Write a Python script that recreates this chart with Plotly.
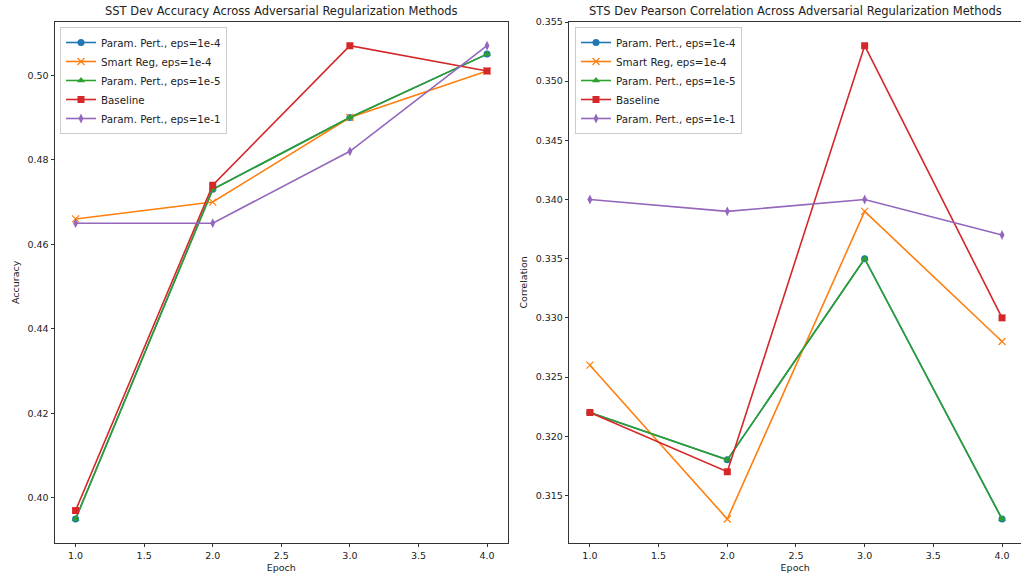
import plotly.graph_objects as go

epochs = [1, 2, 3, 4]
series_names = ["Param. Pert., eps=1e-4", "Smart Reg, eps=1e-4", "Param. Pert., eps=1e-5",
                "Baseline", "Param. Pert., eps=1e-1"]
colors = ["#1f77b4", "#ff7f0e", "#2ca02c", "#d62728", "#9467bd"]
symbols = ["circle", "x-thin", "triangle-up", "square", "diamond-tall"]

sst_pp_1e4 = [0.395, 0.473, 0.490, 0.505]
sst_smart_1e4 = [0.466, 0.470, 0.490, 0.501]
sst_pp_1e5 = [0.395, 0.473, 0.490, 0.505]
sst_baseline = [0.397, 0.474, 0.507, 0.501]
sst_pp_1e1 = [0.465, 0.465, 0.482, 0.507]

sts_pp_1e4 = [0.322, 0.318, 0.335, 0.313]
sts_smart_1e4 = [0.326, 0.313, 0.339, 0.328]
sts_pp_1e5 = [0.322, 0.318, 0.335, 0.313]
sts_baseline = [0.322, 0.317, 0.353, 0.330]
sts_pp_1e1 = [0.340, 0.339, 0.340, 0.337]

sst_ticks = [0.40, 0.42, 0.44, 0.46, 0.48, 0.50]
sts_ticks = [0.315, 0.320, 0.325, 0.330, 0.335, 0.340, 0.345, 0.350, 0.355]
x_ticks = [1.0, 1.5, 2.0, 2.5, 3.0, 3.5, 4.0]

W, H = 1021, 577
FONT = "DejaVu Sans"
TXT = "#222222"

fig = go.Figure()

sst = [sst_pp_1e4, sst_smart_1e4, sst_pp_1e5, sst_baseline, sst_pp_1e1]
sts = [sts_pp_1e4, sts_smart_1e4, sts_pp_1e5, sts_baseline, sts_pp_1e1]


def marker_for(i):
    msym = symbols[i]
    mk = dict(symbol=msym, size=7, color=colors[i])
    if msym == "x-thin":
        mk["line"] = dict(width=1.2, color=colors[i])
    return mk


for i, name in enumerate(series_names):
    fig.add_trace(go.Scatter(x=epochs, y=sst[i], mode="lines+markers", name=name,
                             line=dict(color=colors[i], width=1.6), marker=marker_for(i),
                             xaxis="x", yaxis="y", legend="legend"))
for i, name in enumerate(series_names):
    fig.add_trace(go.Scatter(x=epochs, y=sts[i], mode="lines+markers", name=name,
                             line=dict(color=colors[i], width=1.6), marker=marker_for(i),
                             xaxis="x2", yaxis="y2", legend="legend2"))

ytop = 1 - 22 / H
ybot = 1 - 542.7 / H
x1d = [55 / W, 507.6 / W]
x2d = [569.3 / W, 1.0]

axis_common = dict(showline=True, mirror=True, linecolor="#333333", linewidth=1,
                   ticks="outside", ticklen=3.5, tickwidth=0.8, tickcolor="#333333",
                   showgrid=False, zeroline=False, automargin=False,
                   tickfont=dict(family=FONT, size=9.5, color=TXT))
title_font = dict(family=FONT, size=9.5, color=TXT)
legend_font = dict(family=FONT, size=10.3, color=TXT)

fig.update_layout(
    width=W, height=H,
    margin=dict(l=0, r=0, t=0, b=0, autoexpand=False),
    paper_bgcolor="white", plot_bgcolor="white",
    font=dict(family=FONT, color=TXT),
    xaxis=dict(domain=x1d, anchor="y", range=[0.85, 4.15], tickvals=x_ticks,
               ticktext=[f"{v:.1f}" for v in x_ticks],
               title=dict(text="Epoch", font=title_font, standoff=4),
               **axis_common),
    yaxis=dict(domain=[ybot, ytop], anchor="x", range=[0.3894, 0.5126], tickvals=sst_ticks,
               ticktext=[f"{v:.2f}" for v in sst_ticks],
               title=dict(text="Accuracy", font=title_font, standoff=6),
               **axis_common),
    xaxis2=dict(domain=x2d, anchor="y2", range=[0.85, 4.138], tickvals=x_ticks,
                ticktext=[f"{v:.1f}" for v in x_ticks],
                title=dict(text="Epoch", font=title_font, standoff=4),
                **axis_common),
    yaxis2=dict(domain=[ybot, ytop], anchor="x2", range=[0.311, 0.355], tickvals=sts_ticks,
                ticktext=[f"{v:.3f}" for v in sts_ticks],
                title=dict(text="Correlation", font=title_font, standoff=6),
                **axis_common),
    legend=dict(x=60 / W, y=1 - 27 / H, xanchor="left", yanchor="top",
                bgcolor="rgba(255,255,255,0.8)", bordercolor="#cccccc", borderwidth=1,
                font=legend_font, itemwidth=30, tracegroupgap=0),
    legend2=dict(x=575 / W, y=1 - 27 / H, xanchor="left", yanchor="top",
                 bgcolor="rgba(255,255,255,0.8)", bordercolor="#cccccc", borderwidth=1,
                 font=legend_font, itemwidth=30, tracegroupgap=0),
    annotations=[
        dict(text="SST Dev Accuracy Across Adversarial Regularization Methods",
             xref="paper", yref="paper", x=(x1d[0] + x1d[1]) / 2, y=1 - 11 / H,
             xanchor="center", yanchor="middle", showarrow=False,
             font=dict(family=FONT, size=11.5, color=TXT)),
        dict(text="STS Dev Pearson Correlation Across Adversarial Regularization Methods",
             xref="paper", yref="paper", x=795.5 / W, y=1 - 11 / H,
             xanchor="center", yanchor="middle", showarrow=False,
             font=dict(family=FONT, size=11.5, color=TXT)),
    ],
)

fig.write_html("out.html",
               config={"displayModeBar": False},
               post_script="document.body.style.margin='0';document.body.style.overflow='hidden';")
